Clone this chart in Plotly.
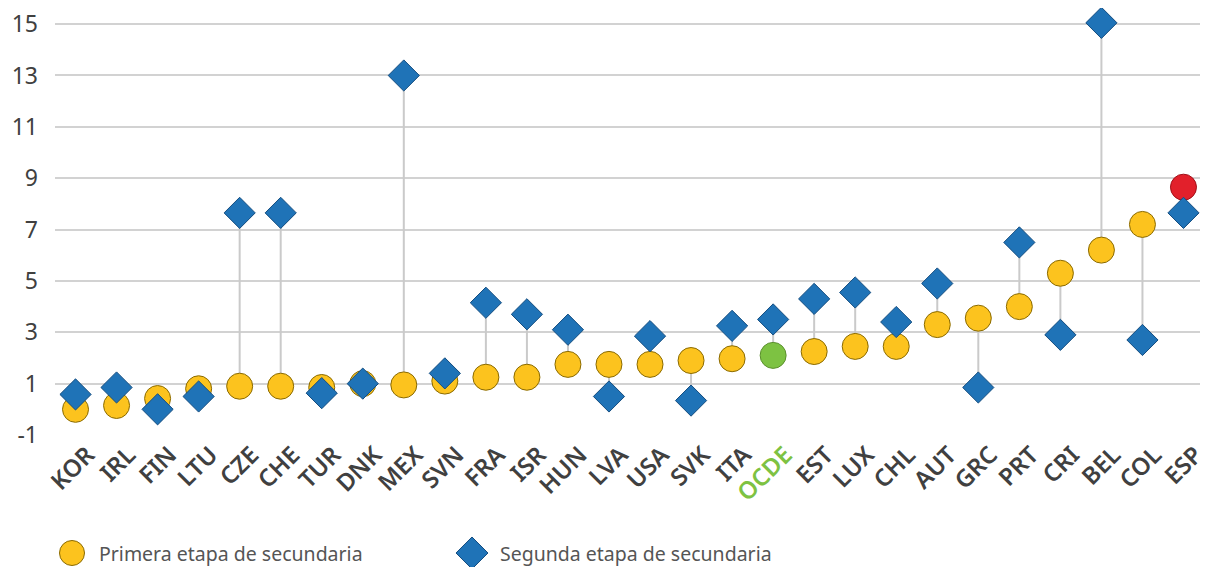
import plotly.graph_objects as go

# ---- data ----
countries = ["KOR", "IRL", "FIN", "LTU", "CZE", "CHE", "TUR", "DNK", "MEX", "SVN",
             "FRA", "ISR", "HUN", "LVA", "USA", "SVK", "ITA", "OCDE", "EST", "LUX",
             "CHL", "AUT", "GRC", "PRT", "CRI", "BEL", "COL", "ESP"]
primera = [0.0, 0.15, 0.42, 0.8, 0.9, 0.9, 0.85, 1.0, 0.95, 1.1,
           1.25, 1.25, 1.75, 1.75, 1.75, 1.9, 1.97, 2.1, 2.25, 2.45,
           2.45, 3.3, 3.55, 4.0, 5.3, 6.2, 7.2, 8.65]
segunda = [0.58, 0.85, 0.0, 0.5, 7.65, 7.65, 0.63, 1.0, 13.0, 1.4,
           4.15, 3.7, 3.1, 0.5, 2.85, 0.34, 3.25, 3.5, 4.3, 4.55,
           3.4, 4.9, 0.85, 6.5, 2.9, 15.05, 2.7, 7.65]
y_ticks = [-1, 1, 3, 5, 7, 9, 11, 13, 15]
y_ticklabels = ["-1", "1", "3", "5", "7", "9", "11", "13", "15"]
legend_labels = ["Primera etapa de secundaria", "Segunda etapa de secundaria"]

YELLOW = "#FCC31E"
BLUE = "#1F73B7"
GREEN = "#7DC242"
RED = "#E2202B"
TXT = "#404040"

prim_colors = [GREEN if c == "OCDE" else RED if c == "ESP" else YELLOW for c in countries]
prim_lines = ["#5a8f2c" if c == "OCDE" else "#a01018" if c == "ESP" else "#8a6a00" for c in countries]

# connector lines
lx, ly = [], []
for c, a, b in zip(countries, primera, segunda):
    lx += [c, c, None]
    ly += [a, b, None]

fig = go.Figure()
fig.add_trace(go.Scatter(x=lx, y=ly, mode="lines", line=dict(color="#cacaca", width=2),
                         hoverinfo="skip", showlegend=False))
fig.add_trace(go.Scatter(x=countries, y=primera, mode="markers", name=legend_labels[0],
                         marker=dict(symbol="circle", size=26, color=prim_colors,
                                     line=dict(color=prim_lines, width=1)),
                         showlegend=False, cliponaxis=False))
fig.add_trace(go.Scatter(x=countries, y=segunda, mode="markers", name=legend_labels[1],
                         marker=dict(symbol="diamond", size=24, color=BLUE,
                                     line=dict(color="#144d80", width=1)),
                         showlegend=False, cliponaxis=False))

ticktext = ["<span style='color:%s'>%s</span>" % (GREEN, c) if c == "OCDE" else c for c in countries]

# page body has an 8px margin; figure is sized to fit inside the window
OFF = 8
W, H = 1200, 559
ML, MR, MT, MB = 47, 4, 11, 132
PW, PH = W - ML - MR, H - MT - MB

def px_x(p):  # page pixel -> paper
    return (p - OFF - ML) / PW

def px_y(p):
    return (H - MB - (p - OFF)) / PH

shapes = []
# legend circle
shapes.append(dict(type="circle", xref="paper", yref="paper",
                   x0=px_x(59.5), x1=px_x(84.5), y0=px_y(565.5), y1=px_y(540.5),
                   fillcolor=YELLOW, line=dict(color="#8a6a00", width=1)))
# legend diamond
cx, cy, hw = 472, 553, 16
path = "M %f,%f L %f,%f L %f,%f L %f,%f Z" % (
    px_x(cx - hw), px_y(cy), px_x(cx), px_y(cy - hw),
    px_x(cx + hw), px_y(cy), px_x(cx), px_y(cy + hw))
shapes.append(dict(type="path", xref="paper", yref="paper", path=path,
                   fillcolor=BLUE, line=dict(color="#144d80", width=1)))

annotations = [
    dict(xref="paper", yref="paper", x=px_x(100), y=px_y(553), text=legend_labels[0],
         showarrow=False, xanchor="left", yanchor="middle", xshift=-3,
         font=dict(size=19.5, color="#555555", family="Noto Sans")),
    dict(xref="paper", yref="paper", x=px_x(501), y=px_y(553), text=legend_labels[1],
         showarrow=False, xanchor="left", yanchor="middle", xshift=-3,
         font=dict(size=19.5, color="#555555", family="Noto Sans")),
]

fig.update_layout(
    width=W, height=H,
    margin=dict(l=ML, r=MR, t=MT, b=MB, autoexpand=False),
    paper_bgcolor="white", plot_bgcolor="white",
    font=dict(family="Noto Sans", color=TXT),
    shapes=shapes, annotations=annotations,
    xaxis=dict(type="category", categoryorder="array", categoryarray=countries,
               tickmode="array", tickvals=countries, ticktext=ticktext,
               tickangle=-45, tickfont=dict(size=24, color=TXT, weight=600),
               showgrid=False, showline=False, zeroline=False, automargin=False,
               range=[-0.5, len(countries) - 0.5], ticks="",
               ticklabelstandoff=0, ticklabelshift=12),
    yaxis=dict(range=[-1, 15.2], tickmode="array", tickvals=y_ticks, ticktext=y_ticklabels,
               tickfont=dict(size=23, color=TXT), ticklabeloverflow="allow",
               showgrid=True, gridcolor="#d2d2d2", gridwidth=2, automargin=False,
               zeroline=False, showline=False, ticks="", ticklabelstandoff=16),
    hovermode=False,
)

fig.write_html("out.html")
